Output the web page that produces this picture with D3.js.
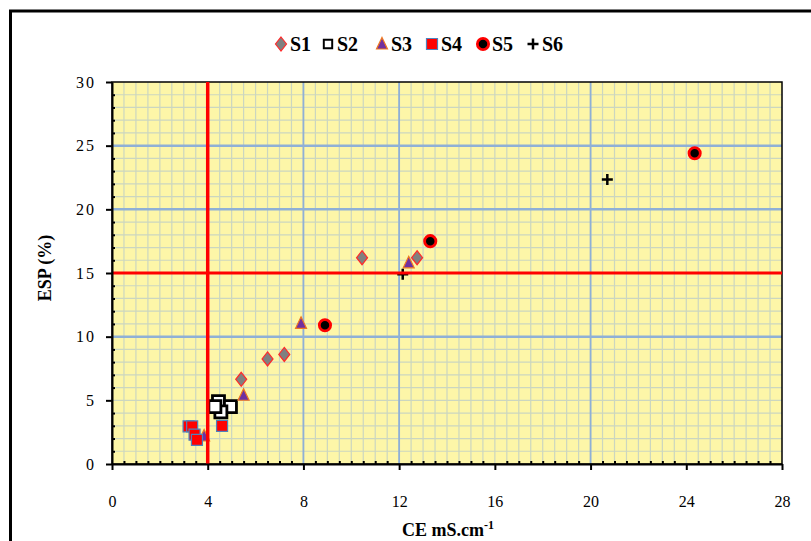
<!DOCTYPE html>
<html><head><meta charset="utf-8">
<script src="https://cdn.jsdelivr.net/npm/d3@7"></script>
<style>body{margin:0;background:#fff}svg{display:block}</style>
</head><body>
<svg id="chart" width="811" height="541"></svg>
<script>
// ---- data ----
const seriesNames = ["S1", "S2", "S3", "S4", "S5", "S6"];
const s1 = [[5.4, 6.65], [6.5, 8.25], [7.2, 8.6], [10.45, 16.2], [12.75, 16.2]];
const s2 = [[4.45, 4.9], [4.95, 4.5], [4.55, 4.1], [4.3, 4.5]];
const s3 = [[3.85, 2.2], [5.5, 5.4], [7.9, 11.05], [12.4, 15.8]];
const s4 = [[3.2, 2.95], [3.35, 2.95], [3.45, 2.3], [3.55, 1.9], [4.6, 3.0]];
const s5 = [[8.9, 10.9], [13.3, 17.5], [24.35, 24.4]];
const s6 = [[12.15, 14.9], [20.7, 22.35]];
const xTicks = [0, 4, 8, 12, 16, 20, 24, 28];
const yTicks = [0, 5, 10, 15, 20, 25, 30];
const xMajorGrid = [8, 12, 20];
const yMajorGrid = [10, 20, 25];
const thresholdX = 4;
const thresholdY = 15;
const xTitle = "CE mS.cm";
const yTitle = "ESP (%)";

const seriesData = [s1, s2, s3, s4, s5, s6];

// ---- layout ----
const svg = d3.select("#chart");
const L = 112, R = 782, T = 82, B = 464;
const x = d3.scaleLinear().domain([0, 28]).range([L, R]);
const y = d3.scaleLinear().domain([0, 30]).range([B, T]);

// outer frame
svg.append("path").attr("d", `M10.5,541V11H811`).attr("fill", "none")
  .attr("stroke", "#000").attr("stroke-width", 3);

// plot background
svg.append("rect").attr("x", L).attr("y", T).attr("width", R - L).attr("height", B - T)
  .attr("fill", "#fdf6a8");

const g = svg.append("g");
// minor grid
const xMinor = d3.range(0.5, 28, 0.5);
const yMinor = d3.range(1, 30, 1);
g.selectAll(".vx").data(xMinor).join("line")
  .attr("x1", d => x(d)).attr("x2", d => x(d)).attr("y1", T).attr("y2", B)
  .attr("stroke", "#cbd6c0").attr("stroke-width", 1.2);
g.selectAll(".hy").data(yMinor).join("line")
  .attr("y1", d => y(d)).attr("y2", d => y(d)).attr("x1", L).attr("x2", R)
  .attr("stroke", "#cbd6c0").attr("stroke-width", 1.2);
// major grid
g.selectAll(".vX").data(xMajorGrid).join("line")
  .attr("x1", d => x(d)).attr("x2", d => x(d)).attr("y1", T).attr("y2", B)
  .attr("stroke", "#8fb0d6").attr("stroke-width", 1.8);
g.selectAll(".hY").data(yMajorGrid).join("line")
  .attr("y1", d => y(d)).attr("y2", d => y(d)).attr("x1", L).attr("x2", R)
  .attr("stroke", "#8fb0d6").attr("stroke-width", 2.5);

// plot frame
svg.append("rect").attr("x", L).attr("y", T).attr("width", R - L).attr("height", B - T)
  .attr("fill", "none").attr("stroke", "#000").attr("stroke-width", 1.5);

// ---- markers ----
const sym = (type, size) => d3.symbol().type(type).size(size)();
const diamond = "M0,-7L5.5,0L0,7L-5.5,0Z";
const plus = "M-5.5,0H5.5M0,-5.5V5.5";
const styles = [
  {d: diamond, fill: "#808080", stroke: "#ff2a2a", sw: 1.2},
  {d: "M-6,-6H6V6H-6Z", fill: "#fff", stroke: "#000", sw: 2.8},
  {d: "M0,-6.5L5.5,5H-5.5Z", fill: "#7030a0", stroke: "#f07820", sw: 1.2},
  {d: "M-5.5,-5.5H5.5V5.5H-5.5Z", fill: "#ff0000", stroke: "#4f81bd", sw: 1.2},
  {d: sym(d3.symbolCircle, 100), fill: "#000", stroke: "#ff0000", sw: 2.8},
  {d: plus, fill: "none", stroke: "#000", sw: 2.5}
];

const pts = svg.append("g");
seriesData.forEach((data, i) => {
  pts.selectAll(null).data(data).join("path")
    .attr("transform", d => `translate(${x(d[0])},${y(d[1])})`)
    .attr("d", styles[i].d)
    .attr("fill", styles[i].fill)
    .attr("stroke", styles[i].stroke)
    .attr("stroke-width", styles[i].sw);
});

// threshold lines (drawn above points)
svg.append("line").attr("x1", x(thresholdX)).attr("x2", x(thresholdX)).attr("y1", T).attr("y2", B)
  .attr("stroke", "#ff0000").attr("stroke-width", 3.5);
svg.append("line").attr("x1", L).attr("x2", R).attr("y1", y(thresholdY)).attr("y2", y(thresholdY))
  .attr("stroke", "#ff0000").attr("stroke-width", 3);

// ---- axes ----
const font = "'Liberation Serif', 'Times New Roman', serif";
// minor ticks (inside)
svg.append("g").attr("transform", `translate(0,${B})`)
  .call(d3.axisTop(x).tickValues(d3.range(0.5, 28, 0.5).filter(v => v % 4 !== 0)).tickSize(3).tickFormat(""))
  .call(a => a.select(".domain").remove())
  .selectAll("line").attr("stroke", "#000").attr("stroke-width", 2);
svg.append("g").attr("transform", `translate(${L},0)`)
  .call(d3.axisRight(y).tickValues(d3.range(1, 30, 1).filter(v => v % 5 !== 0)).tickSize(3).tickFormat(""))
  .call(a => a.select(".domain").remove())
  .selectAll("line").attr("stroke", "#000").attr("stroke-width", 2);

const xa = svg.append("g").attr("transform", `translate(0,${B})`)
  .call(d3.axisBottom(x).tickValues(xTicks).tickSize(6).tickSizeOuter(0).tickPadding(26));
xa.select(".domain").attr("stroke", "#000").attr("stroke-width", 2);
xa.selectAll("line").attr("stroke", "#000").attr("stroke-width", 2);
xa.selectAll("text").attr("font-family", font).attr("font-size", 16).attr("fill", "#000");

const ya = svg.append("g").attr("transform", `translate(${L},0)`)
  .call(d3.axisLeft(y).tickValues(yTicks).tickSize(6).tickSizeOuter(0).tickPadding(10));
ya.select(".domain").attr("stroke", "#000").attr("stroke-width", 2);
ya.selectAll("line").attr("stroke", "#000").attr("stroke-width", 2);
ya.selectAll("text").attr("font-family", font).attr("font-size", 16).attr("fill", "#000")
  .attr("letter-spacing", 2);

// axis titles
const xt = svg.append("text").attr("x", 448).attr("y", 536).attr("text-anchor", "middle")
  .attr("font-family", font).attr("font-weight", "bold").attr("font-size", 18).attr("fill", "#000");
xt.append("tspan").text(xTitle);
xt.append("tspan").attr("dy", -7).attr("font-size", 12).text("-1");

svg.append("text").attr("transform", `translate(51,268) rotate(-90)`).attr("text-anchor", "middle")
  .attr("font-family", font).attr("font-weight", "bold").attr("font-size", 18).attr("fill", "#000")
  .text(yTitle);

// ---- legend ----
const legendX = [281, 328, 382, 432, 483, 533];
const lg = svg.append("g");
seriesNames.forEach((name, i) => {
  const scale = i === 1 ? 0.7 : 1;
  lg.append("path").attr("transform", `translate(${legendX[i]},44) scale(${scale})`)
    .attr("d", styles[i].d).attr("fill", styles[i].fill).attr("stroke", styles[i].stroke)
    .attr("stroke-width", styles[i].sw);
  lg.append("text").attr("x", legendX[i] + 9).attr("y", 51)
    .attr("font-family", font).attr("font-weight", "bold").attr("font-size", 20).attr("fill", "#000")
    .text(name);
});
</script>
</body></html>
